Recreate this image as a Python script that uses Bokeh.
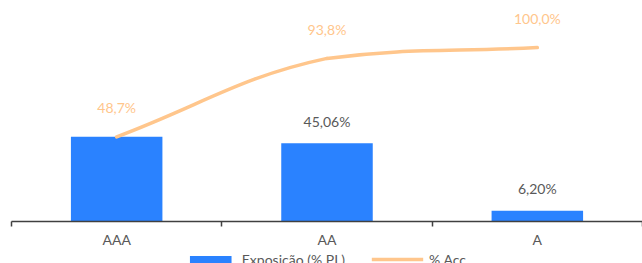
from bokeh.plotting import figure
from bokeh.layouts import column
from bokeh.models import Range1d, FixedTicker, LinearAxis, Legend, LegendItem, ColumnDataSource
from bokeh.core.properties import value
from bokeh.embed import file_html
from bokeh.resources import INLINE
import math

categories = ["AAA", "AA", "A"]
exposure = [48.70, 45.06, 6.20]
exposure_labels = ["", "45,06%", "6,20%"]
cumulative = [48.7, 93.8, 100.0]
cumulative_labels = ["48,7%", "93,8%", "100,0%"]
series_names = ["Exposição (% PL)", "% Acc."]

BLUE = "#2A82FF"
ORANGE = "#FFC68C"
GREY = "#595959"
FONT = "Lato"

FRAME_W, FRAME_H = 631, 213
Y_MAX = 122.5
xs = [i + 0.5 for i in range(len(categories))]

p = figure(frame_width=FRAME_W, frame_height=FRAME_H, x_range=Range1d(0, len(categories)),
           y_range=Range1d(0, Y_MAX), output_backend="svg", toolbar_location=None,
           min_border_left=11, min_border_right=0, min_border_top=8, min_border_bottom=0,
           x_axis_location=None, y_axis_location=None)
p.outline_line_color = None
p.xgrid.visible = False
p.ygrid.visible = False

src = ColumnDataSource(dict(x=xs, cat=categories, exp=exposure, exp_lab=exposure_labels,
                            cum=cumulative, cum_lab=cumulative_labels))

bars = p.vbar(x="x", top="exp", width=0.435, source=src, fill_color=BLUE, line_color=None)

# smooth spline rendering of the cumulative line (tension-based control points, kept monotone)
sx = FRAME_W / len(categories)
sy = FRAME_H / Y_MAX
tension = 0.4
n = len(xs)
cp_prev, cp_next = [], []
for i in range(n):
    a = i - 1 if i > 0 else i
    b = i + 1 if i < n - 1 else i
    d01 = math.hypot((xs[i] - xs[a]) * sx, (cumulative[i] - cumulative[a]) * sy)
    d12 = math.hypot((xs[b] - xs[i]) * sx, (cumulative[b] - cumulative[i]) * sy)
    tot = d01 + d12
    fa = tension * (d01 / tot if tot else 0)
    fb = tension * (d12 / tot if tot else 0)
    dx, dy = xs[b] - xs[a], cumulative[b] - cumulative[a]
    cp_prev.append((xs[i] - fa * dx, cumulative[i] - fa * dy))
    cp_next.append((xs[i] + fb * dx, cumulative[i] + fb * dy))
bz = dict(x0=[], y0=[], x1=[], y1=[], cx0=[], cy0=[], cx1=[], cy1=[])
for i in range(n - 1):
    lo, hi = min(cumulative[i], cumulative[i + 1]), max(cumulative[i], cumulative[i + 1])
    bz["x0"].append(xs[i]); bz["y0"].append(cumulative[i])
    bz["x1"].append(xs[i + 1]); bz["y1"].append(cumulative[i + 1])
    bz["cx0"].append(cp_next[i][0]); bz["cy0"].append(min(max(cp_next[i][1], lo), hi))
    bz["cx1"].append(cp_prev[i + 1][0]); bz["cy1"].append(min(max(cp_prev[i + 1][1], lo), hi))
curve = p.bezier(x0="x0", y0="y0", x1="x1", y1="y1", cx0="cx0", cy0="cy0", cx1="cx1", cy1="cy1",
                 source=ColumnDataSource(bz), line_color=ORANGE, line_width=3.5, line_cap="round")

p.text(x="x", y="exp", text="exp_lab", source=src, text_align="center", text_baseline="middle",
       y_offset=-22, text_font=value(FONT), text_font_size="14px", text_color=GREY)
p.text(x="x", y="cum", text="cum_lab", source=src, text_align="center", text_baseline="middle",
       y_offset=-29, text_font=value(FONT), text_font_size="14px", text_color=ORANGE)

xaxis = LinearAxis(ticker=FixedTicker(ticks=xs, minor_ticks=list(range(len(categories) + 1))),
                   major_label_overrides={x: c for x, c in zip(xs, categories)})
xaxis.axis_line_color = "#404040"
xaxis.axis_line_width = 1.5
xaxis.major_tick_line_color = None
xaxis.major_tick_out = 5
xaxis.major_tick_in = 0
xaxis.minor_tick_line_color = "#404040"
xaxis.minor_tick_line_width = 1.5
xaxis.minor_tick_out = 5
xaxis.minor_tick_in = 0
xaxis.major_label_standoff = 4
xaxis.major_label_text_font = FONT
xaxis.major_label_text_font_size = "14px"
xaxis.major_label_text_color = GREY
p.add_layout(xaxis, "below")

# legend strip below the chart; its key renderers reuse the series but lie outside the strip's view
lf = figure(frame_width=FRAME_W, height=17, x_range=Range1d(0, len(categories)),
            y_range=Range1d(2 * Y_MAX, 2 * Y_MAX + 1),
            output_backend="svg", toolbar_location=None,
            min_border_left=11, min_border_right=0, min_border_top=0, min_border_bottom=0,
            x_axis_location=None, y_axis_location=None)
lf.outline_line_color = None
lf.xgrid.visible = False
lf.ygrid.visible = False
key_bar = lf.vbar(x="x", top="exp", width=0.435, source=src, fill_color=BLUE, line_color=None)
key_line = lf.line(x="x", y="cum", source=src, line_color=ORANGE, line_width=3.5)

legend = Legend(items=[LegendItem(label=series_names[0], renderers=[key_bar]),
                       LegendItem(label=series_names[1], renderers=[key_line])],
                orientation="horizontal", location="center",
                border_line_color=None, background_fill_alpha=0,
                label_text_font=FONT, label_text_font_size="14px", label_text_color=GREY,
                glyph_width=52, glyph_height=9, label_height=14, spacing=26, label_standoff=6,
                padding=0, margin=0)
lf.add_layout(legend, "center")

layout = column(p, lf, spacing=0)
open("out.html", "w").write(file_html(layout, INLINE))
